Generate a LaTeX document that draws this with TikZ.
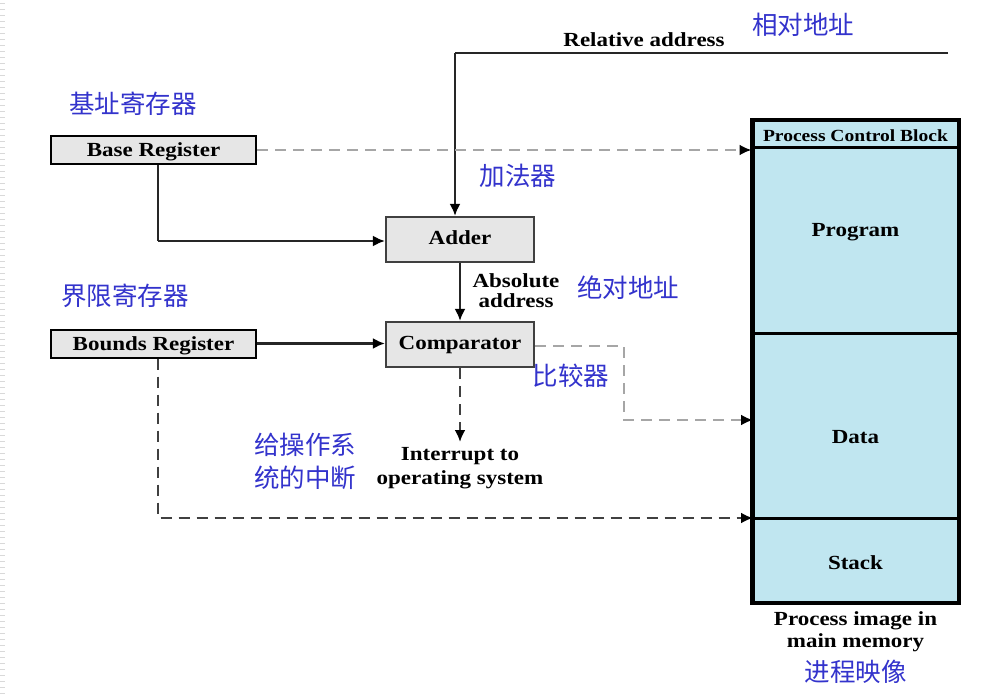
\documentclass[tikz,border=0pt]{standalone}
\usepackage{fontspec}
\setmainfont{Liberation Serif}
\newfontfamily\enfont[FakeStretch=1.15]{Liberation Serif}
\newfontfamily\cjk{Noto Sans CJK SC}
\usetikzlibrary{arrows.meta}
\definecolor{cnblue}{RGB}{51,51,204}
\definecolor{memblue}{RGB}{192,230,240}
\definecolor{boxgray}{RGB}{230,230,230}
\tikzset{
  x=1pt,y=-1pt,
  regbox/.style={draw=black,fill=boxgray,line width=2pt,minimum width=205pt,minimum height=28pt,inner sep=0pt,text height=15pt,text depth=1pt,font=\enfont\bfseries\fontsize{20}{20}\selectfont},
  unitbox/.style={draw=black!75,fill=boxgray,line width=2.2pt,minimum width=148pt,minimum height=45pt,inner sep=0pt},
  membox/.style={draw=black,fill=memblue,line width=3pt,minimum width=205pt,inner sep=0pt},
  cnlabel/.style={text=cnblue,font=\cjk\fontsize{25.5}{33}\selectfont,align=left,inner sep=0pt},
  enlabel/.style={font=\enfont\bfseries\fontsize{20}{22}\selectfont,align=center,inner sep=0pt},
  oneline/.style={enlabel,text height=15pt,text depth=1pt},
  plainline/.style={line width=2.2pt,black!85},
  conn/.style={line width=2.2pt,black!85,-{Latex[length=12pt,width=11pt,color=black]}},
  dconn/.style={line width=2.4pt,gray!70,dash pattern=on 11pt off 7pt,-{Latex[length=12pt,width=11pt,color=black]}},
  ddconn/.style={line width=2.4pt,black!75,dash pattern=on 11pt off 7pt,-{Latex[length=12pt,width=11pt,color=black]}},
  stripe/.style={gray!30,line width=0.6pt}
}
\begin{document}
\begin{tikzpicture}
\useasboundingbox (0,0) rectangle (996,698);
\fill[white] (0,0) rectangle (996,698);
\foreach \yy in {3,9,...,695} {\draw[stripe] (0,\yy) -- (5,\yy);}
% registers
\node[regbox] (base) at (153.5,150) {Base Register};
\node[regbox] (bounds) at (153.5,343.5) {Bounds Register};
% units
\node[unitbox] (adder) at (460,239.5) {};
\node[unitbox] (comp) at (460,344.5) {};
\node[oneline] (addert) at (460,237) {Adder};
\node[oneline] (compt) at (460,342) {Comparator};
% memory
\node[membox,minimum height=27pt] (pcb) at (855.5,134.5) {};
\node[membox,minimum height=185pt] (prog) at (855.5,240.5) {};
\node[membox,minimum height=185pt] (data) at (855.5,425.5) {};
\node[membox,minimum height=84pt] (stack) at (855.5,560) {};
\draw[black,line width=3.6pt] (pcb.north west) rectangle (stack.south east);
\node[oneline,font=\enfont\bfseries\fontsize{17}{17}\selectfont,text height=13pt,text depth=1pt] (pcbt) at (855.5,135.5) {Process Control Block};
\node[oneline] (progt) at (855.5,229) {Program};
\node[oneline] (datat) at (855.5,436) {Data};
\node[oneline] (stackt) at (855.5,562) {Stack};
% coordinates
\coordinate (relend) at (948,53);
\coordinate (relcorner) at (455,53);
\coordinate (basecorner) at (158,241);
\coordinate (cmpc1) at (624,346);
\coordinate (cmpc2) at (624,420);
\coordinate (dataent) at (753,420);
\coordinate (bcorner) at (158,518);
\coordinate (stackent) at (753,518);
\coordinate (intend) at (460,442);
% connectors
\draw[plainline] (relend) -- (relcorner);
\draw[conn] (relcorner) -- (relcorner |- adder.north);
\draw[plainline] (base.south -| basecorner) -- (basecorner);
\draw[conn] (basecorner) -- (adder.west |- basecorner);
\draw[conn] (adder.south) -- (comp.north);
\draw[conn] (bounds.east) -- (comp.west |- bounds.east);
\draw[dconn] (base.east) -- (pcb.west |- base.east);
\draw[dconn] (comp.east |- cmpc1) -- (cmpc1) -- (cmpc2) -- (dataent);
\draw[ddconn] (comp.south) -- (intend);
\draw[ddconn] (bounds.south -| bcorner) -- (bcorner) -- (stackent);
% english labels
\node[oneline] (rel) at (644,40) {Relative address};
\node[enlabel,font=\enfont\bfseries\fontsize{20}{20}\selectfont] (abs) at (516,291) {Absolute\\address};
\node[enlabel,font=\enfont\bfseries\fontsize{20}{24}\selectfont] (intr) at (460,468) {Interrupt to\\operating system};
\node[enlabel,font=\enfont\bfseries\fontsize{20}{22}\selectfont] (pimg) at (855.5,632) {Process image in\\main memory};
% chinese labels
\node[cnlabel] (c1) at (803,25) {相对地址};
\node[cnlabel] (c2) at (133,104) {基址寄存器};
\node[cnlabel] (c3) at (518,176) {加法器};
\node[cnlabel] (c4) at (628,288) {绝对地址};
\node[cnlabel] (c5) at (125,296) {界限寄存器};
\node[cnlabel] (c6) at (571,376) {比较器};
\node[cnlabel] (c7) at (305,461) {给操作系\\统的中断};
\node[cnlabel] (c8) at (855.5,672) {进程映像};
\end{tikzpicture}
\end{document}
